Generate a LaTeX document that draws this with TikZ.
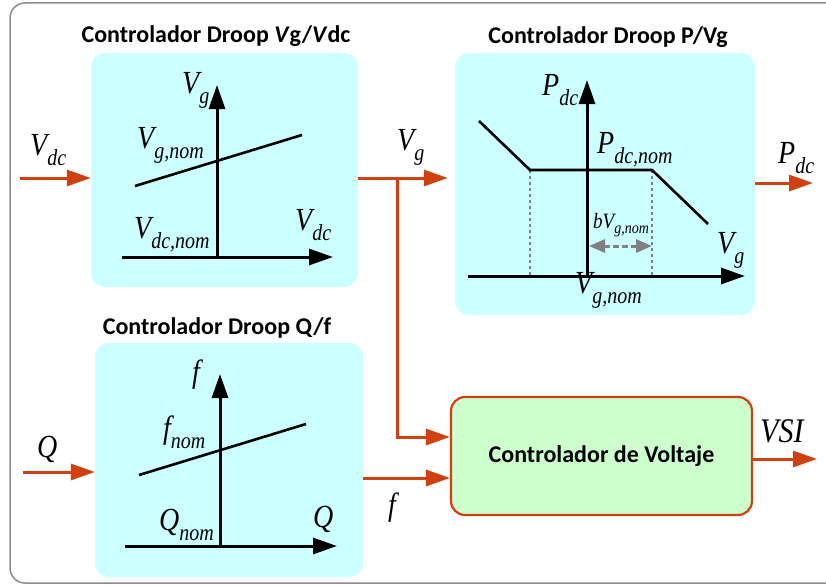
\documentclass[tikz,border=0pt]{standalone}
\usepackage{fontspec}
\usepackage{graphicx}
\setmainfont{Liberation Serif}
\newfontfamily\titlefont{Carlito}
\usetikzlibrary{arrows.meta}
\definecolor{boxcyan}{RGB}{204,255,255}
\definecolor{boxgreen}{RGB}{204,255,204}
\definecolor{sig}{RGB}{208,64,16}
\definecolor{frame}{RGB}{140,140,140}
\definecolor{spangray}{RGB}{128,128,128}
\newcommand\mlab[2]{\scalebox{1}[1.15]{{\fontsize{28}{28}\selectfont\itshape #1}\raisebox{-9pt}{\fontsize{20}{20}\selectfont\itshape #2}}}
\newcommand\onelab[2][28]{\scalebox{1}[1.15]{\fontsize{#1}{#1}\selectfont\itshape #2}}
\newcommand\slab[2]{\scalebox{1}[1.15]{{\fontsize{19}{19}\selectfont\itshape #1}\raisebox{-5pt}{\fontsize{14}{14}\selectfont\itshape #2}}}
\tikzset{
  cbox/.style={fill=boxcyan, draw=none, rounded corners=14pt, inner sep=0pt},
  gbox/.style={fill=boxgreen, draw=sig, line width=2.2pt, rounded corners=14pt, inner sep=0pt,
     font=\titlefont\bfseries\fontsize{24}{24}\selectfont},
  ttl/.style={font=\titlefont\bfseries\fontsize{24}{24}\selectfont, inner sep=0pt},
  lab/.style={inner sep=0pt, anchor=base west},
  sigarrow/.style={draw=sig, line width=3pt, -{Triangle[length=24pt,width=16pt]}},
  sigline/.style={draw=sig, line width=3pt},
  axis/.style={line width=3pt, -{Triangle[length=24pt,width=16pt]}},
  curve/.style={line width=2.6pt},
  guide/.style={draw=spangray, line width=1.1pt, dashed},
  span/.style={draw=spangray, line width=3pt, dash pattern=on 6pt off 3pt, {Triangle[length=16pt,width=13pt]}-{Triangle[length=16pt,width=13pt]}}
}
\begin{document}
\begin{tikzpicture}[x=1pt,y=-1pt]
\useasboundingbox (0,0) rectangle (826,586);
% outer frame
\draw[frame, line width=1.5pt, rounded corners=15pt] (840,3) -- (10,3) -- (10,583) -- (840,583);

% boxes
\node[cbox, minimum width=267pt, minimum height=234pt] (b1) at (224.5,170) {};
\node[cbox, minimum width=300pt, minimum height=262pt] (b2) at (605,184) {};
\node[cbox, minimum width=268pt, minimum height=234pt] (b3) at (229,460) {};
\node[gbox, minimum width=301pt, minimum height=118pt] (b4) at (601.5,456) {Controlador de Voltaje};

% titles
\node[ttl] (t1) at (216,36) {Controlador Droop \textit{V}g/\textit{V}dc};
\node[ttl] (t2) at (608,37) {Controlador Droop P/Vg};
\node[ttl] (t3) at (217,328) {Controlador Droop Q/f};

% ---- plot 1
\draw[axis] (217,257) -- (217,85);
\draw[axis] (122,257) -- (333,257);
\draw[curve] (135,186) -- (302,135);
\node[lab] (p1a) at (182,93) {\mlab{V}{g}};
\node[lab] (p1b) at (137,148) {\mlab{V}{g,nom}};
\node[lab] (p1c) at (134,238) {\mlab{V}{dc,nom}};
\node[lab] (p1d) at (295,230) {\mlab{V}{dc}};

% ---- plot 2
\draw[axis] (587,276) -- (587,80);
\draw[axis] (468,276) -- (745,276);
\draw[guide] (530,170) -- (530,276);
\draw[guide] (652,170) -- (652,276);
\draw[curve] (479,121) -- (530,170) -- (652,170) -- (708,224);
\draw[span] (589,246) -- (652,246);
\node[lab] (p2a) at (542,95) {\mlab{P}{dc}};
\node[lab] (p2b) at (597,153) {\mlab{P}{dc,nom}};
\node[lab] (p2c) at (593,228) {\slab{bV}{g,nom}};
\node[lab] (p2d) at (717,253) {\mlab{V}{g}};
\node[lab] (p2e) at (575,293) {\mlab{V}{g,nom}};

% ---- plot 3
\draw[axis] (220,546) -- (220,374);
\draw[axis] (125,546) -- (337,546);
\draw[curve] (139,475) -- (306,424);
\node[lab] (p3a) at (192,382) {\onelab{f}};
\node[lab] (p3b) at (163,438) {\mlab{f}{nom}};
\node[lab] (p3c) at (159,530) {\mlab{Q}{nom}};
\node[lab] (p3d) at (313,527) {\onelab{Q}};

% ---- signals
\coordinate (vdcin) at (20,178);
\coordinate (qin) at (23,472);
\coordinate (br) at (397,178);
\coordinate (pdcout) at (813,183);
\coordinate (vsiout) at (817,459);

\draw[sigarrow] (vdcin) -- (vdcin -| b1.west);
\draw[sigarrow, shorten >=7pt] (b1.east |- vdcin) -- (vdcin -| b2.west);
\draw[sigarrow] (br) |- (b4.west |- 0,437);
\draw[sigarrow] (b2.east |- pdcout) -- (pdcout);
\draw[sigarrow] (qin) -- (qin -| b3.west);
\draw[sigarrow] (b3.east |- 0,478) -- (b4.west |- 0,478);
\draw[sigarrow] (b4.east |- vsiout) -- (vsiout);

\node[lab] (l1) at (30,155) {\mlab{V}{dc}};
\node[lab] (l2) at (397,150) {\mlab{V}{g}};
\node[lab] (l3) at (778,163) {\mlab{P}{dc}};
\node[lab] (l4) at (37,457) {\onelab{Q}};
\node[lab] (l5) at (388,515) {\onelab{f}};
\node[lab] (l6) at (760,442) {\onelab[30]{VSI}};
\end{tikzpicture}
\end{document}
